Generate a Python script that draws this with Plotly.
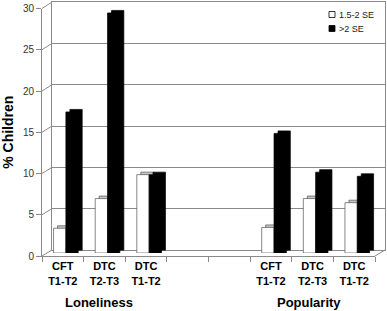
import plotly.graph_objects as go

# ---------------- data ----------------
comparisons = ["CFT<br>T1-T2", "DTC<br>T2-T3", "DTC<br>T1-T2"]
measures = ["Loneliness", "Popularity"]
series_names = ["1.5-2 SE", ">2 SE"]
lon_15_2 = [3.0, 6.6, 9.5]
lon_gt2 = [17.1, 29.1, 9.5]
pop_15_2 = [3.1, 6.6, 6.1]
pop_gt2 = [14.5, 9.8, 9.3]
y_ticks = [0, 5, 10, 15, 20, 25, 30]

# category ids (two empty slots between the groups)
cat_ids = ["L0", "L1", "L2", "gap0", "gap1", "P0", "P1", "P2"]
cat_text = comparisons + ["", ""] + comparisons
lon_ids = cat_ids[:3]
pop_ids = cat_ids[5:]
x_vals = lon_ids + pop_ids
white_vals = lon_15_2 + pop_15_2
black_vals = lon_gt2 + pop_gt2

# ---------------- layout constants (pixels) ----------------
W, H = 387, 311
ML, MR, MT, MB = 42, 2, 2, 55
PW = W - ML - MR          # 343
PH = H - MT - MB          # 254
DX_WALL, DY_WALL = 10, 6  # back wall offset
DX_BAR, DY_BAR = 4, 2.5   # bar depth
FRONT_W = PW - DX_WALL    # 333
FRONT_H = 247.5
BAR_UP = 3

def fx(px):
    return px / PW

def fy(py_from_bottom):
    return py_from_bottom / PH

GRID = "#8a8a8a"
cat_w = 0.296
white_off = -0.222
black_off = white_off + cat_w

fig = go.Figure()

# invisible carriers so that the back wall and the front axes subplots get drawn
for xa, ya in (("x", "y"), ("x4", "y4")):
    fig.add_trace(go.Bar(x=x_vals, y=black_vals, xaxis=xa, yaxis=ya,
                         width=cat_w, offset=black_off, opacity=0,
                         showlegend=False, hoverinfo="skip"))

# depth copies (side/top faces)
fig.add_trace(go.Bar(x=x_vals, y=white_vals, xaxis="x2", yaxis="y2",
                     width=cat_w, offset=white_off,
                     marker=dict(color="#c4c4c4", line=dict(color="#555555", width=0.7)),
                     showlegend=False, hoverinfo="skip"))
fig.add_trace(go.Bar(x=x_vals, y=black_vals, xaxis="x2", yaxis="y2",
                     width=cat_w, offset=black_off,
                     marker=dict(color="#000000", line=dict(color="#000000", width=0.7)),
                     showlegend=False, hoverinfo="skip"))
# front faces
fig.add_trace(go.Bar(x=x_vals, y=white_vals, xaxis="x3", yaxis="y3",
                     width=cat_w, offset=white_off, name=series_names[0],
                     marker=dict(color="#ffffff", line=dict(color="#555555", width=0.7)),
                     showlegend=False))
fig.add_trace(go.Bar(x=x_vals, y=black_vals, xaxis="x3", yaxis="y3",
                     width=cat_w, offset=black_off, name=series_names[1],
                     marker=dict(color="#000000", line=dict(color="#000000", width=0.7)),
                     showlegend=False))

cat_common = dict(type="category", categoryorder="array", categoryarray=cat_ids,
                  range=[-0.5, len(cat_ids) - 0.5], fixedrange=True)

shapes = []
# left wall diagonals for each gridline
for v in y_ticks:
    y_front = v / 30 * FRONT_H
    y_back = DY_WALL + v / 30 * (PH - DY_WALL)
    shapes.append(dict(type="line", xref="paper", yref="paper",
                       x0=0, y0=fy(y_front), x1=fx(DX_WALL), y1=fy(y_back),
                       line=dict(color=GRID, width=1), layer="below"))
# floor right diagonal
shapes.append(dict(type="line", xref="paper", yref="paper",
                   x0=fx(FRONT_W), y0=0, x1=1, y1=fy(DY_WALL),
                   line=dict(color=GRID, width=1), layer="below"))

# legend (squares + labels)
leg_colors = ["#ffffff", "#000000"]
leg_y = [14.5, 28.5]
annotations = []
for i, name in enumerate(series_names):
    ypx_from_bottom = (H - MB) - leg_y[i]
    shapes.append(dict(type="rect", xref="paper", yref="paper",
                       x0=fx(329 - ML), x1=fx(335 - ML),
                       y0=fy(ypx_from_bottom - 3), y1=fy(ypx_from_bottom + 3),
                       fillcolor=leg_colors[i], line=dict(color="#000000", width=0.8)))
    annotations.append(dict(text=name, xref="paper", yref="paper",
                            x=fx(337 - ML), y=fy(ypx_from_bottom),
                            xanchor="left", yanchor="middle", showarrow=False,
                            font=dict(size=9, color="#222222")))

# group labels
for name, xc in zip(measures, [99, 309]):
    annotations.append(dict(text=name, xref="paper", yref="paper",
                            x=fx(xc - ML), y=fy((H - MB) - 302),
                            xanchor="center", yanchor="middle", showarrow=False,
                            font=dict(size=13, color="#000000", weight="bold")))

fig.update_layout(
    template="none",
    width=W, height=H,
    margin=dict(l=ML, r=MR, t=MT, b=MB, pad=0),
    paper_bgcolor="white", plot_bgcolor="rgba(0,0,0,0)",
    barmode="overlay",
    showlegend=False,
    font=dict(family="Liberation Sans, Arial, sans-serif", color="#000000"),
    # back wall
    xaxis=dict(domain=[fx(DX_WALL), 1], anchor="y", showticklabels=False, ticks="",
               showgrid=False, zeroline=False, showline=True, linecolor=GRID,
               linewidth=1, mirror=True, **cat_common),
    yaxis=dict(domain=[fy(DY_WALL), 1], anchor="x", range=[0, 30], tickvals=y_ticks,
               tickmode="array",
               showticklabels=False, ticks="", showgrid=True, gridcolor=GRID,
               gridwidth=1, zeroline=False, showline=True, linecolor=GRID,
               linewidth=1, mirror=True, fixedrange=True),
    # bar depth
    xaxis2=dict(domain=[fx(DX_BAR), fx(DX_BAR + FRONT_W)], anchor="y2", visible=False,
                **cat_common),
    yaxis2=dict(domain=[fy(BAR_UP + DY_BAR), fy(BAR_UP + DY_BAR + FRONT_H)], anchor="x2",
                range=[0, 30], visible=False, fixedrange=True),
    # bar front faces
    xaxis3=dict(domain=[0, fx(FRONT_W)], anchor="y3", visible=False, **cat_common),
    yaxis3=dict(domain=[fy(BAR_UP), fy(BAR_UP + FRONT_H)], anchor="x3",
                range=[0, 30], visible=False, fixedrange=True),
    # front axes
    xaxis4=dict(domain=[0, fx(FRONT_W)], anchor="y4", showgrid=False, zeroline=False,
                showline=True, linecolor=GRID, linewidth=1,
                ticks="outside", ticklen=5, tickcolor=GRID, tickwidth=1,
                tickson="boundaries", tickmode="array", tickvals=cat_ids,
                ticktext=cat_text,
                tickfont=dict(size=11, color="#000000", weight="bold"),
                automargin=False, **cat_common),
    yaxis4=dict(domain=[0, fy(FRONT_H)], anchor="x4", range=[0, 30],
                tickmode="array", tickvals=y_ticks, showgrid=False, zeroline=False,
                showline=True, linecolor=GRID, linewidth=1,
                ticks="outside", ticklen=5, tickcolor=GRID, tickwidth=1,
                tickfont=dict(size=10, color="#333333"),
                title=dict(text="% Children", standoff=6,
                           font=dict(size=14, color="#000000", weight="bold")),
                automargin=False, fixedrange=True),
    shapes=shapes,
    annotations=annotations,
)

fig.write_html("out.html", config={"displayModeBar": False},
               post_script="document.body.style.margin='0px';document.body.style.padding='0px';")
